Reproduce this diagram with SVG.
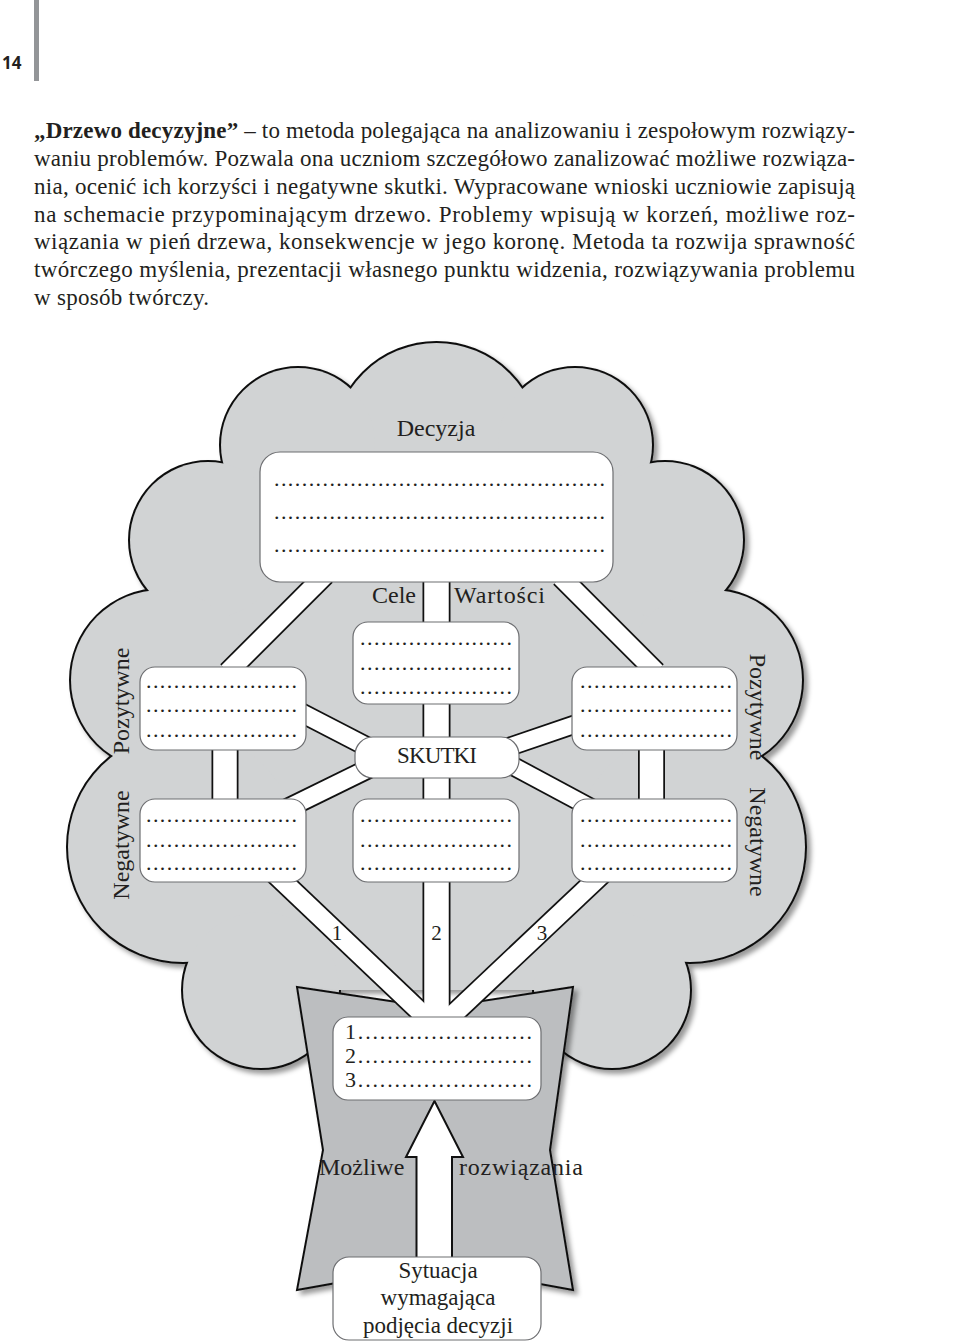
<svg xmlns="http://www.w3.org/2000/svg" width="960" height="1342" viewBox="0 0 960 1342">
<defs>
<style>
.t{font-family:"Liberation Serif","Times New Roman",serif;fill:#231f20}
.body{font-size:23px}
.lbl{font-size:24px}
.dots{font-size:22px}
.box{fill:#fff;stroke:#6d6e71;stroke-width:1.2}
.k{stroke:#111;fill:none;stroke-linecap:butt}
.w{stroke:#fff;fill:none;stroke-linecap:butt}
.lobe{fill:#d1d3d4;stroke:#111;stroke-width:4}
.lobef{fill:#d1d3d4}
</style>
<filter id="sh" x="-10%" y="-10%" width="130%" height="130%">
<feDropShadow dx="4" dy="4" stdDeviation="2.5" flood-color="#000" flood-opacity="0.4"/>
</filter>
<path id="bA" d="M325,575 L228,672"/>
<path id="bB" d="M561,577 L656,672"/>
<path id="bC" d="M436.5,575 L436.5,1022"/>
<path id="bD" d="M225,745 L225,805"/>
<path id="bE" d="M651.5,745 L651.5,805"/>
<path id="bF" d="M290,707 L380,753.5"/>
<path id="bG" d="M280,812 L380,763"/>
<path id="bH" d="M585,721 L500,750"/>
<path id="bI" d="M500,759 L595,810"/>
<path id="bJ" d="M274,873 L434,1025"/>
<path id="bK" d="M602,874 L442,1025"/>
<g id="cl">
<circle cx="436.5" cy="446" r="103"/>
<circle cx="298" cy="445" r="77"/>
<circle cx="575" cy="445" r="77"/>
<circle cx="208" cy="540" r="78"/>
<circle cx="665" cy="540" r="78"/>
<circle cx="161" cy="680" r="90"/>
<circle cx="712" cy="680" r="90"/>
<circle cx="183" cy="847" r="115"/>
<circle cx="690" cy="847" r="115"/>
<circle cx="261" cy="990" r="78"/>
<circle cx="612" cy="990" r="78"/>
</g>
</defs>
<rect width="960" height="1342" fill="#fff"/>

<g id="header">
<rect x="34" y="0" width="5" height="81" fill="#939598"/>
<text x="2" y="69" font-family="'Open Sans','DejaVu Sans',sans-serif" font-weight="bold" font-size="17" fill="#231f20">14</text>
</g>

<g id="intro" class="t body">
<text x="34" y="138" textLength="821" lengthAdjust="spacing"><tspan font-weight="bold">„Drzewo decyzyjne”</tspan> – to metoda polegająca na analizowaniu i zespołowym rozwiązy-</text>
<text x="34" y="166" textLength="821" lengthAdjust="spacing">waniu problemów. Pozwala ona uczniom szczegółowo zanalizować możliwe rozwiąza-</text>
<text x="34" y="194" textLength="821" lengthAdjust="spacing">nia, ocenić ich korzyści i negatywne skutki. Wypracowane wnioski uczniowie zapisują</text>
<text x="34" y="222" textLength="821" lengthAdjust="spacing">na schemacie przypominającym drzewo. Problemy wpisują w korzeń, możliwe roz-</text>
<text x="34" y="249" textLength="821" lengthAdjust="spacing">wiązania w pień drzewa, konsekwencje w jego koronę. Metoda ta rozwija sprawność</text>
<text x="34" y="277" textLength="821" lengthAdjust="spacing">twórczego myślenia, prezentacji własnego punktu widzenia, rozwiązywania problemu</text>
<text x="34" y="305" textLength="175" lengthAdjust="spacing">w sposób twórczy.</text>
</g>

<g id="crown" filter="url(#sh)">
<use href="#cl" class="lobe"/>
<polygon class="lobef" points="436.5,446 575,445 665,540 712,680 690,847 612,990 261,990 183,847 161,680 208,540 298,445"/>
<use href="#cl" class="lobef"/>
</g>

<g id="trunk" filter="url(#sh)">
<polygon points="297,987 436.5,1008 573,987 550,1150 573,1290 436.5,1265 297,1290 323,1150" fill="#bcbec0" stroke="#111" stroke-width="2" stroke-linejoin="miter"/>
</g>

<g id="connectors">
<g class="k">
<use href="#bA" stroke-width="22"/>
<use href="#bB" stroke-width="22"/>
<use href="#bC" stroke-width="28"/>
<use href="#bD" stroke-width="27"/>
<use href="#bE" stroke-width="27"/>
<use href="#bF" stroke-width="21"/>
<use href="#bG" stroke-width="21"/>
<use href="#bH" stroke-width="20"/>
<use href="#bI" stroke-width="20"/>
<use href="#bJ" stroke-width="22"/>
<use href="#bK" stroke-width="22"/>
</g>
<g class="w">
<use href="#bA" stroke-width="18.5"/>
<use href="#bB" stroke-width="18.5"/>
<use href="#bC" stroke-width="24.5"/>
<use href="#bD" stroke-width="23.5"/>
<use href="#bE" stroke-width="23.5"/>
<use href="#bF" stroke-width="17.5"/>
<use href="#bG" stroke-width="17.5"/>
<use href="#bH" stroke-width="16.5"/>
<use href="#bI" stroke-width="16.5"/>
<use href="#bJ" stroke-width="18.5"/>
<use href="#bK" stroke-width="18.5"/>
</g>
<polygon id="arrow" points="416.5,1262 416.5,1157 406,1157 434.5,1101 463,1157 452,1157 452,1262" fill="#fff" stroke="#111" stroke-width="2" stroke-linejoin="miter"/>
<g class="t" font-size="21" text-anchor="middle">
<text x="337" y="940">1</text>
<text x="436.5" y="940">2</text>
<text x="542" y="940">3</text>
</g>
</g>

<text class="t lbl" x="436" y="436" text-anchor="middle">Decyzja</text>
<text class="t lbl" x="372" y="603">Cele</text>
<text class="t lbl" x="454" y="603" textLength="91" lengthAdjust="spacing">Wartości</text>
<text class="t lbl" transform="translate(129,701) rotate(-90)" text-anchor="middle">Pozytywne</text>
<text class="t lbl" transform="translate(129,845) rotate(-90)" text-anchor="middle">Negatywne</text>
<text class="t lbl" transform="translate(750,707) rotate(90)" text-anchor="middle">Pozytywne</text>
<text class="t lbl" transform="translate(750,842) rotate(90)" text-anchor="middle">Negatywne</text>
<text class="t lbl" x="319" y="1175">Możliwe</text>
<text class="t lbl" x="459" y="1175" textLength="124" lengthAdjust="spacing">rozwiązania</text>

<g id="decyzja">
<rect class="box" x="260" y="452" width="353" height="130" rx="20"/>
<g class="t dots">
<text x="274" y="486" textLength="331" lengthAdjust="spacing">................................................</text>
<text x="274" y="519" textLength="331" lengthAdjust="spacing">................................................</text>
<text x="274" y="552" textLength="331" lengthAdjust="spacing">................................................</text>
</g>
</g>

<g id="cele-wartosci">
<rect class="box" x="353" y="622" width="166" height="82" rx="15"/>
<g class="t dots">
<text x="360" y="645" textLength="152" lengthAdjust="spacing">......................</text>
<text x="360" y="670" textLength="152" lengthAdjust="spacing">......................</text>
<text x="360" y="694" textLength="152" lengthAdjust="spacing">......................</text>
</g>
</g>

<g id="skutki">
<rect class="box" x="355" y="737" width="164" height="41" rx="18"/>
<text class="t" x="437" y="763" font-size="23" text-anchor="middle" textLength="80" lengthAdjust="spacing">SKUTKI</text>
</g>

<g id="skutki-neg-2">
<rect class="box" x="353" y="799" width="166" height="83" rx="15"/>
<g class="t dots">
<text x="360" y="822" textLength="152" lengthAdjust="spacing">......................</text>
<text x="360" y="847" textLength="152" lengthAdjust="spacing">......................</text>
<text x="360" y="870" textLength="152" lengthAdjust="spacing">......................</text>
</g>
</g>

<g id="poz-1">
<rect class="box" x="140" y="667" width="166" height="83" rx="15"/>
<g class="t dots">
<text x="146" y="688" textLength="151" lengthAdjust="spacing">......................</text>
<text x="146" y="712" textLength="151" lengthAdjust="spacing">......................</text>
<text x="146" y="737" textLength="151" lengthAdjust="spacing">......................</text>
</g>
</g>

<g id="neg-1">
<rect class="box" x="140" y="799" width="166" height="83" rx="15"/>
<g class="t dots">
<text x="146" y="822" textLength="151" lengthAdjust="spacing">......................</text>
<text x="146" y="847" textLength="151" lengthAdjust="spacing">......................</text>
<text x="146" y="870" textLength="151" lengthAdjust="spacing">......................</text>
</g>
</g>

<g id="poz-3">
<rect class="box" x="572" y="667" width="165" height="83" rx="15"/>
<g class="t dots">
<text x="580" y="688" textLength="152" lengthAdjust="spacing">......................</text>
<text x="580" y="712" textLength="152" lengthAdjust="spacing">......................</text>
<text x="580" y="737" textLength="152" lengthAdjust="spacing">......................</text>
</g>
</g>

<g id="neg-3">
<rect class="box" x="572" y="799" width="165" height="83" rx="15"/>
<g class="t dots">
<text x="580" y="822" textLength="152" lengthAdjust="spacing">......................</text>
<text x="580" y="847" textLength="152" lengthAdjust="spacing">......................</text>
<text x="580" y="870" textLength="152" lengthAdjust="spacing">......................</text>
</g>
</g>

<g id="rozwiazania">
<rect class="box" x="333" y="1017" width="208" height="83" rx="15"/>
<g class="t dots">
<text x="345" y="1039" textLength="187" lengthAdjust="spacing">1........................</text>
<text x="345" y="1063" textLength="187" lengthAdjust="spacing">2........................</text>
<text x="345" y="1087" textLength="187" lengthAdjust="spacing">3........................</text>
</g>
</g>

<g id="sytuacja">
<rect class="box" x="333" y="1257" width="208" height="83" rx="16"/>
<g class="t" font-size="23" text-anchor="middle">
<text x="438" y="1278">Sytuacja</text>
<text x="438" y="1305">wymagająca</text>
<text x="438" y="1333">podjęcia decyzji</text>
</g>
</g>
</svg>
